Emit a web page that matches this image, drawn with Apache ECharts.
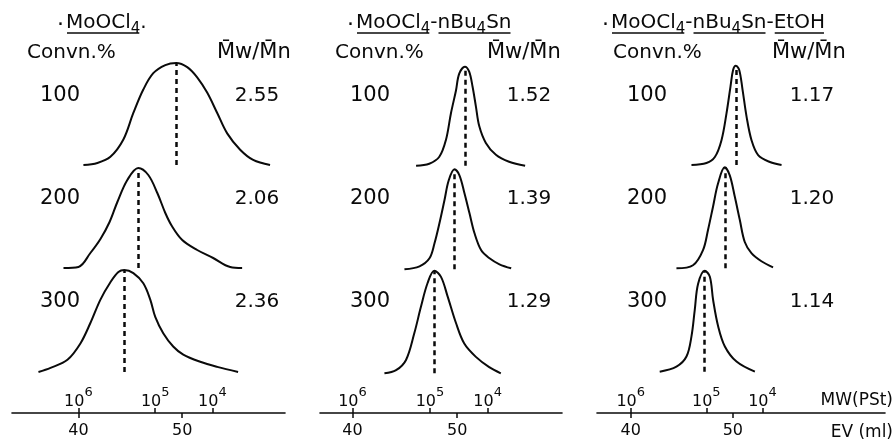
<!DOCTYPE html>
<html><head><meta charset="utf-8">
<script src="https://cdn.jsdelivr.net/npm/echarts@6/dist/echarts.min.js"></script>
<style>html,body{margin:0;padding:0;background:#fff}#c{width:895px;height:440px}</style>
</head><body><div id="c"></div>
<script>
// ---------- data ----------
const panelTitles = ['MoOCl₄.', 'MoOCl₄-nBu₄Sn', 'MoOCl₄-nBu₄Sn-EtOH'];
const conversions = ['100', '200', '300'];
const mwmnMoOCl4 = ['2.55', '2.06', '2.36'];
const mwmnSn = ['1.52', '1.39', '1.29'];
const mwmnSnEtOH = ['1.17', '1.20', '1.14'];
const evTicks = [40, 50];
const mwTickEV = [40.0, 47.4, 52.9];
const mwTickExp = ['6', '5', '4'];

// GPC traces: [elution volume (ml), relative intensity]
const p1c100 = [[40.48,0],[41.83,0.02],[43.08,0.08],[44.33,0.25],[45.29,0.51],[46.25,0.74],[47.21,0.90],[48.37,0.98],[49.42,1.0],[50.48,0.96],[51.44,0.86],[52.40,0.71],[53.37,0.51],[54.33,0.31],[55.58,0.15],[56.83,0.05],[58.46,0]];
const p1c200 = [[38.56,0],[40.0,0.01],[41.15,0.15],[42.12,0.29],[43.0,0.46],[43.75,0.66],[44.71,0.88],[45.77,1.0],[46.73,0.93],[47.60,0.75],[48.37,0.55],[49.0,0.42],[50.0,0.28],[51.44,0.18],[52.98,0.10],[54.62,0.01],[55.77,0]];
const p1c300 = [[36.15,0],[37.31,0.04],[38.94,0.12],[40.19,0.28],[41.15,0.48],[42.12,0.71],[43.08,0.88],[43.85,0.98],[44.42,1],[45.29,0.97],[46.25,0.87],[46.92,0.71],[47.40,0.54],[48.17,0.38],[49.13,0.25],[50.10,0.17],[51.73,0.10],[53.37,0.05],[55.38,0]];
const p2c100 = [[46.07,0],[47.33,0.02],[48.29,0.09],[48.92,0.26],[49.40,0.53],[49.88,0.76],[50.19,0.93],[50.73,1],[51.14,0.95],[51.46,0.80],[51.78,0.60],[52.10,0.40],[52.73,0.23],[53.69,0.11],[54.95,0.04],[56.48,0]];
const p2c200 = [[44.96,0],[46.40,0.03],[47.35,0.11],[47.83,0.26],[48.30,0.46],[48.78,0.69],[49.19,0.89],[49.74,1],[50.21,0.94],[50.69,0.76],[51.17,0.56],[51.65,0.36],[52.29,0.19],[53.08,0.11],[54.03,0.05],[55.15,0.01]];
const p2c300 = [[43.05,0],[44.16,0.03],[45.11,0.13],[45.90,0.39],[46.54,0.65],[47.17,0.88],[47.81,1],[48.45,0.94],[49.08,0.75],[49.88,0.49],[50.67,0.29],[51.78,0.16],[53.05,0.06],[54.16,0]];
const p3c100 = [[45.95,0],[47.42,0.02],[48.24,0.08],[48.89,0.25],[49.38,0.52],[49.77,0.79],[50.03,0.96],[50.29,1],[50.62,0.96],[50.95,0.76],[51.34,0.49],[51.83,0.25],[52.48,0.10],[53.63,0.03],[54.77,0]];
const p3c200 = [[44.48,0],[46.10,0.03],[47.08,0.18],[47.57,0.38],[48.06,0.61],[48.55,0.84],[49.21,1],[49.70,0.92],[50.19,0.71],[50.68,0.48],[51.17,0.26],[51.82,0.15],[52.80,0.07],[53.94,0.01]];
const p3c300 = [[42.84,0],[44.48,0.05],[45.46,0.15],[45.95,0.35],[46.27,0.61],[46.60,0.87],[47.25,1],[47.75,0.94],[48.07,0.71],[48.56,0.45],[49.22,0.25],[50.36,0.10],[52.16,0]];

// ---------- layout ----------
const FONT = '"DejaVu Sans", sans-serif';
const INK = '#0a0a0a';
const panels = [
  {curves:[p1c100,p1c200,p1c300], ratios:mwmnMoOCl4, left:12, width:273, min:33.6, max:59.9,
   tops:[63,168,270], heights:[102,100,102], titleX:57, convX:27, ratioHX:217, convNumX:60, ratioX:257},
  {curves:[p2c100,p2c200,p2c300], ratios:mwmnSn, left:320, width:242, min:36.9, max:60.0,
   tops:[66.7,169.3,270.7], heights:[99,100,102.6], titleX:347, convX:335, ratioHX:487, convNumX:370, ratioX:529},
  {curves:[p3c100,p3c200,p3c300], ratios:mwmnSnEtOH, left:597, width:288, min:36.7, max:64.9,
   tops:[65.7,167.3,270.7], heights:[99.3,101,101], titleX:602, convX:613, ratioHX:772, convNumX:647, ratioX:812}
];
const rowY = [96, 199, 302];
const TS = 20, SS = 15;

const cv = document.createElement('canvas').getContext('2d');
function tw(s, size){ cv.font = size + 'px "DejaVu Sans"'; return cv.measureText(s).width; }

const grids = [], xAxes = [], yAxes = [], series = [], graphics = [];
panels.forEach((p, pi) => {
  p.curves.forEach((data, ci) => {
    const gi = grids.length;
    grids.push({left:p.left, width:p.width, top:p.tops[ci], height:p.heights[ci]});
    xAxes.push({type:'value', gridIndex:gi, min:p.min, max:p.max, show:false});
    yAxes.push({type:'value', gridIndex:gi, min:0, max:1, show:false});
    let peak = data[0];
    data.forEach(d => { if (d[1] > peak[1]) peak = d; });
    series.push({
      type:'line', xAxisIndex:xAxes.length-1, yAxisIndex:yAxes.length-1, data:data,
      smooth:0.35, showSymbol:false, clip:false, silent:true,
      lineStyle:{color:INK, width:2},
      markLine:{silent:true, symbol:'none', label:{show:false},
        lineStyle:{color:INK, width:2.5, type:[5,4]}, data:[{xAxis:peak[0]}]}
    });
  });
  // axis grid
  const gi = grids.length;
  grids.push({left:p.left, width:p.width, top:403, height:10});
  yAxes.push({type:'value', gridIndex:gi, show:false, min:0, max:1});
  xAxes.push({type:'value', gridIndex:gi, min:p.min, max:p.max, position:'bottom',
    axisLine:{show:true, onZero:false, lineStyle:{color:INK, width:1.6}},
    axisTick:{show:true, customValues:evTicks, length:5, lineStyle:{color:INK, width:1.5}},
    splitLine:{show:false},
    axisLabel:{customValues:evTicks, color:INK, fontSize:16, fontFamily:FONT, margin:10}});
  xAxes.push({type:'value', gridIndex:gi, min:p.min, max:p.max, position:'bottom',
    axisLine:{show:false, onZero:false},
    axisTick:{show:true, inside:true, customValues:mwTickEV, length:5, lineStyle:{color:INK, width:1.5}},
    splitLine:{show:false},
    axisLabel:{customValues:mwTickEV, inside:true, margin:3, color:INK, fontFamily:FONT,
      formatter:v => { const i = mwTickEV.findIndex(t => Math.abs(t - v) < 1e-6); return '{b|10}{s|' + mwTickExp[i] + '}'; },
      rich:{b:{fontSize:16, fontFamily:FONT, color:INK, verticalAlign:'bottom'},
            s:{fontSize:13, fontFamily:FONT, color:INK, verticalAlign:'bottom', padding:[0,0,11,0]}}}});

  // title with subscripts and segmented underline
  const title = panelTitles[pi];
  let rich = '', cur = '', x = 0, segStart = null;
  const tx = p.titleX + 9;
  const segs = [];
  for (const ch of title) {
    const isSub = ch === '₄';
    const w = isSub ? tw('4', SS) : tw(ch, TS);
    if (isSub) { if (cur) { rich += '{b|' + cur + '}'; cur = ''; } rich += '{s|4}'; }
    else cur += ch;
    const under = ch !== '-' && ch !== '.';
    if (under && segStart === null) segStart = x;
    if (!under && segStart !== null) { segs.push([segStart, x]); segStart = null; }
    x += w;
  }
  if (cur) rich += '{b|' + cur + '}';
  if (segStart !== null) segs.push([segStart, x]);
  graphics.push({type:'text', x:p.titleX, y:25, style:{text:'·', fill:INK, font:'22px ' + FONT, align:'left', verticalAlign:'middle'}});
  graphics.push({type:'text', x:tx, y:25, style:{text:rich, align:'left', verticalAlign:'middle',
    rich:{b:{fontSize:TS, fontFamily:FONT, fill:INK, verticalAlign:'bottom', padding:[0,0,4,0]},
          s:{fontSize:SS, fontFamily:FONT, fill:INK, verticalAlign:'bottom'}}}});
  segs.forEach(s => graphics.push({type:'line', shape:{x1:tx + s[0] + 1, y1:33, x2:tx + s[1] - 1, y2:33}, style:{stroke:INK, lineWidth:1.6}}));

  graphics.push({type:'text', x:p.convX, y:53, style:{text:'Convn.%', fill:INK, font:'20px ' + FONT, align:'left', verticalAlign:'middle'}});
  graphics.push({type:'text', x:p.ratioHX, y:53, style:{text:'M\u0304w/M\u0304n', fill:INK, font:'21px ' + FONT, align:'left', verticalAlign:'middle'}});
  conversions.forEach((c, r) => {
    graphics.push({type:'text', x:p.convNumX, y:rowY[r], style:{text:c, fill:INK, font:'21px ' + FONT, align:'center', verticalAlign:'middle'}});
    graphics.push({type:'text', x:p.ratioX, y:rowY[r], style:{text:p.ratios[r], fill:INK, font:'20px ' + FONT, align:'center', verticalAlign:'middle'}});
  });
});
graphics.push({type:'text', x:893, y:401, style:{text:'MW(PSt)', fill:INK, font:'17px ' + FONT, align:'right', verticalAlign:'middle'}});
graphics.push({type:'text', x:893, y:433, style:{text:'EV (ml)', fill:INK, font:'17px ' + FONT, align:'right', verticalAlign:'middle'}});

const chart = echarts.init(document.getElementById('c'), null, {renderer:'canvas'});
chart.setOption({
  animation:false, backgroundColor:'#fff',
  grid:grids, xAxis:xAxes, yAxis:yAxes, series:series, graphic:graphics
});
</script></body></html>
